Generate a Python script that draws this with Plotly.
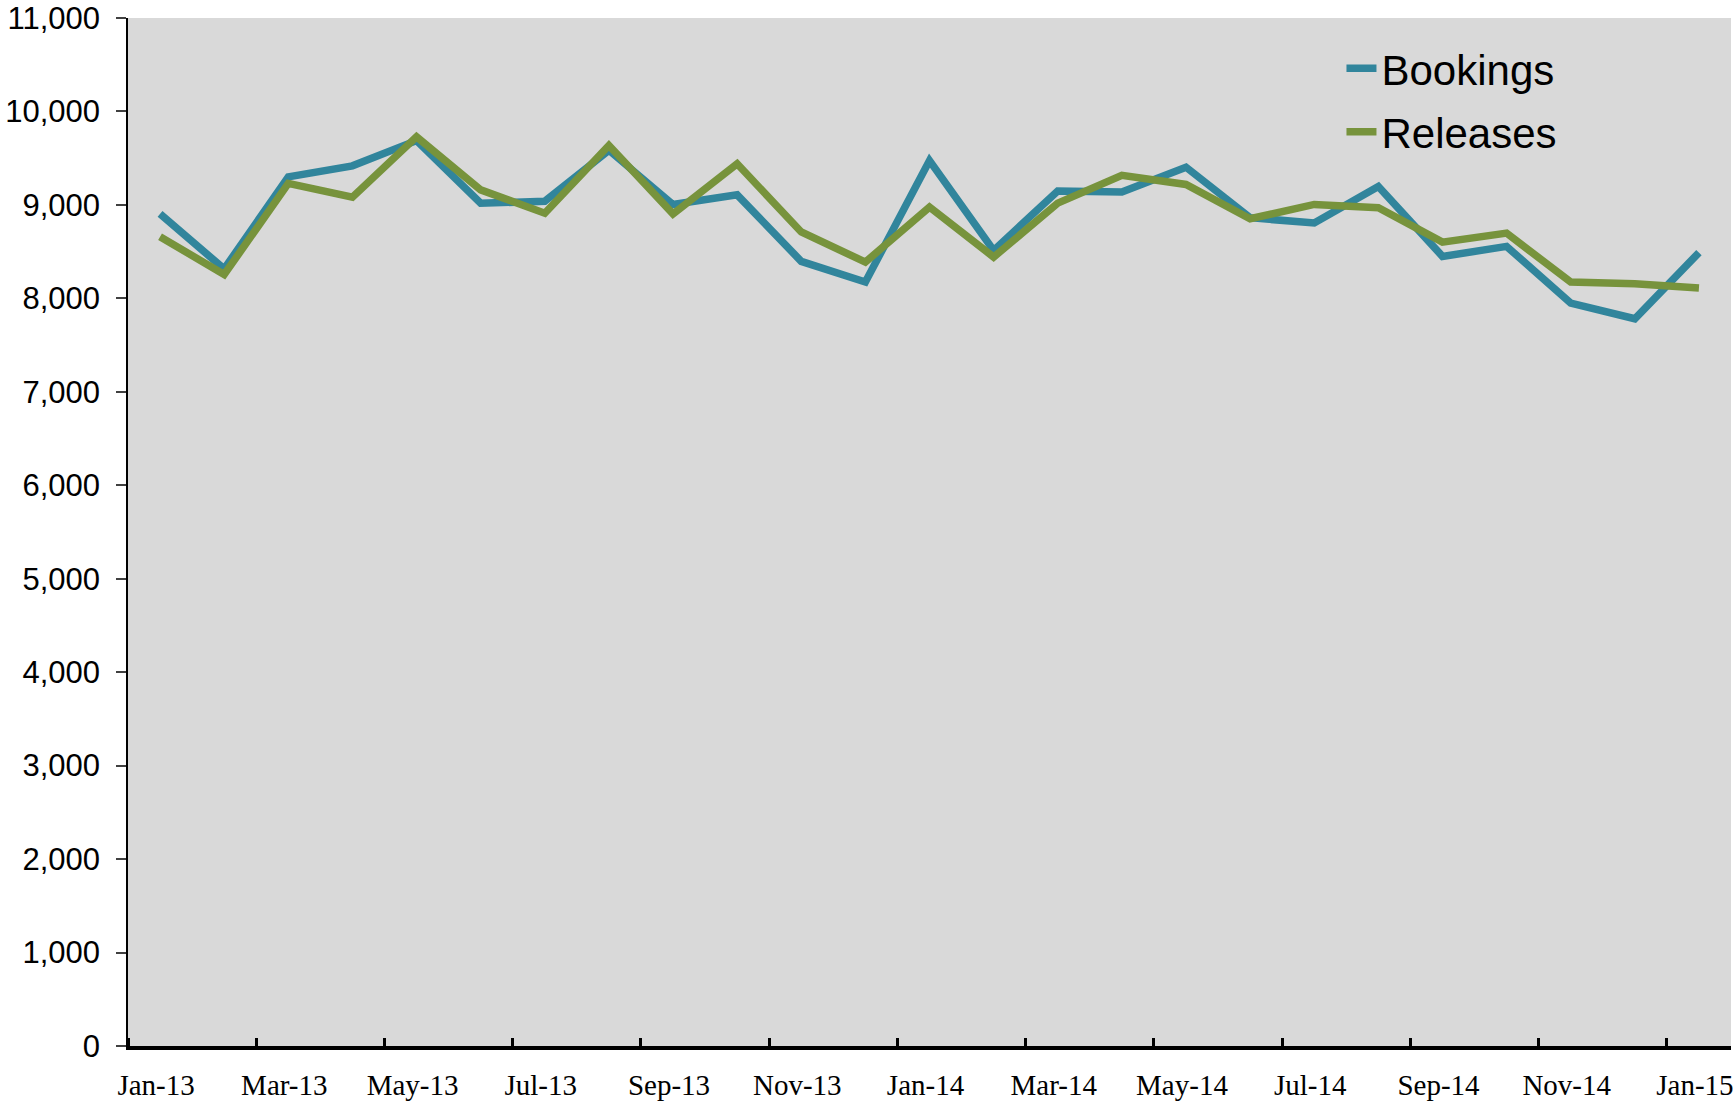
import plotly.graph_objects as go

months = ["Jan-13", "Feb-13", "Mar-13", "Apr-13", "May-13", "Jun-13", "Jul-13", "Aug-13",
          "Sep-13", "Oct-13", "Nov-13", "Dec-13", "Jan-14", "Feb-14", "Mar-14", "Apr-14",
          "May-14", "Jun-14", "Jul-14", "Aug-14", "Sep-14", "Oct-14", "Nov-14", "Dec-14", "Jan-15"]

bookings = [8905, 8315, 9300, 9418, 9688, 9018, 9039, 9585, 9004, 9108, 8396, 8175,
            9475, 8513, 9148, 9137, 9404, 8863, 8806, 9198, 8449, 8556, 7950, 7782, 8490]

releases = [8660, 8255, 9230, 9083, 9728, 9161, 8911, 9636, 8904, 9440, 8710, 8388,
            8977, 8442, 9019, 9316, 9219, 8852, 9005, 8970, 8602, 8698, 8174, 8157, 8110]

y_ticks = [0, 1000, 2000, 3000, 4000, 5000, 6000, 7000, 8000, 9000, 10000, 11000]

x_idx = list(range(len(months)))
label_idx = x_idx[::2]
label_text = months[::2]
boundary_idx = [i - 0.5 for i in label_idx]

fig = go.Figure()
fig.add_trace(go.Scatter(x=x_idx, y=bookings, mode="lines", name="Bookings",
                         line=dict(color="#31859C", width=7.5), legendgroup="b"))
fig.add_trace(go.Scatter(x=x_idx, y=releases, mode="lines", name="Releases",
                         line=dict(color="#77933C", width=7.5), legendgroup="r"))

fig.update_layout(
    width=1736, height=1101,
    margin=dict(l=128, r=5, t=18, b=55),
    paper_bgcolor="white",
    plot_bgcolor="#D9D9D9",
    showlegend=True,
    legend=dict(x=0.757, y=0.984, xanchor="left", yanchor="top",
                bgcolor="rgba(0,0,0,0)", tracegroupgap=6,
                font=dict(family="Arial, Liberation Sans, sans-serif", size=42, color="black")),
    xaxis=dict(range=[-0.5, len(months) - 0.5], tickmode="array",
               tickvals=label_idx, ticktext=label_text, ticks="",
               automargin=False, ticklabeloverflow="allow", ticklabelstandoff=10,
               ticklabelshift=-4,
               minor=dict(tickmode="array", tickvals=boundary_idx, ticks="inside",
                          ticklen=8, tickwidth=3, tickcolor="black", showgrid=False),
               showgrid=False, zeroline=False, showline=True, linecolor="black", linewidth=4,
               tickfont=dict(family="Times New Roman, Liberation Serif, serif", size=29, color="black")),
    yaxis=dict(range=[0, 11000], tickmode="array", tickvals=y_ticks,
               tickformat=",d", ticks="outside", ticklen=10, tickwidth=1.5, tickcolor="#404040",
               automargin=False, ticklabeloverflow="allow",
               showgrid=False, zeroline=False, showline=True, linecolor="black", linewidth=1.5,
               ticklabelstandoff=10,
               tickfont=dict(family="Arial, Liberation Sans, sans-serif", size=31, color="black")),
)

fig.write_html(
    "out.html",
    config={"displayModeBar": False},
    post_script="document.body.style.margin='0';document.body.style.overflow='hidden';",
)
